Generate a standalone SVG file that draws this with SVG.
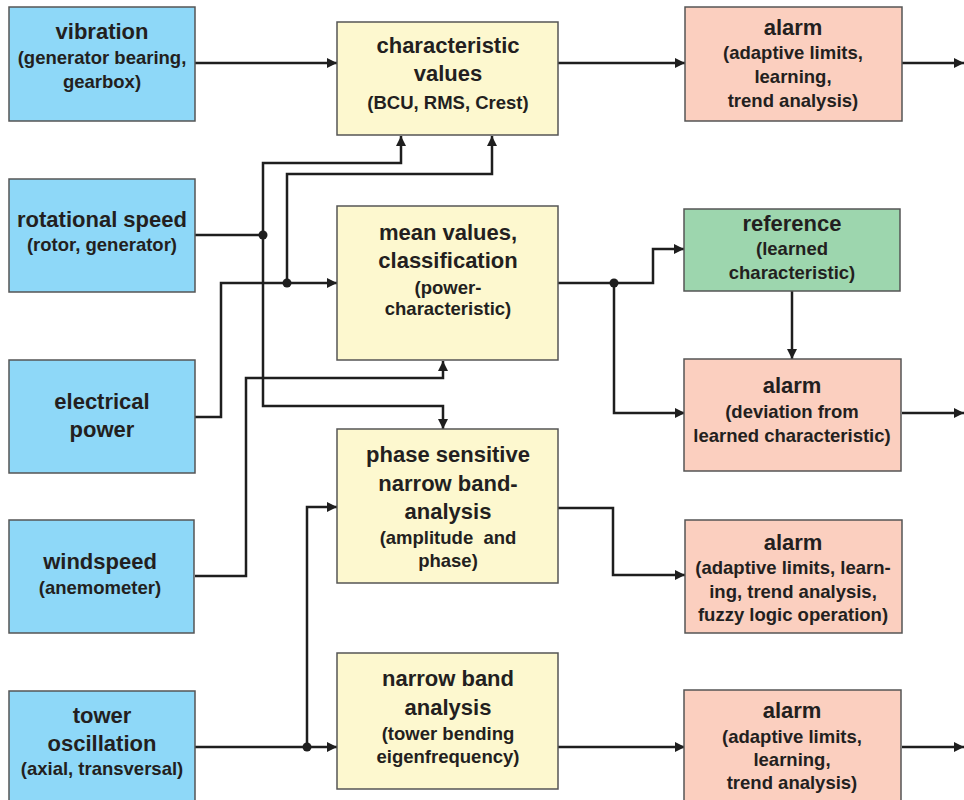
<svg xmlns="http://www.w3.org/2000/svg" width="964" height="800" viewBox="0 0 964 800">
<defs>
<style>
.box{stroke:#555;stroke-width:1.5}
.in{fill:#8ed8f8}
.proc{fill:#fdf8cf}
.alarm{fill:#fbcfbf}
.ref{fill:#9dd6ae}
text{font-family:"Liberation Sans",Arial,sans-serif;font-weight:bold;fill:#231f20;text-anchor:middle}
.t{font-size:22px}
.s{font-size:18.5px}
.c{fill:none;stroke:#1e1e1e;stroke-width:2.5}
.dot{fill:#1e1e1e}
</style>
<marker id="ah" viewBox="0 0 10 10" refX="10" refY="5" markerWidth="10" markerHeight="10" markerUnits="userSpaceOnUse" orient="auto">
<path d="M0,0 L10,5 L0,10 z" fill="#1e1e1e"/>
</marker>
</defs>
<rect width="964" height="800" fill="#fff"/>

<g id="connectors">
<path class="c" marker-end="url(#ah)" d="M195,63 H337"/>
<path class="c" marker-end="url(#ah)" d="M558,63 H685"/>
<path class="c" marker-end="url(#ah)" d="M902,63 H964"/>
<path class="c" d="M195,235 H263"/>
<path class="c" marker-end="url(#ah)" d="M263,235 V163 H401 V136"/>
<path class="c" marker-end="url(#ah)" d="M263,235 V406 H443 V429"/>
<path class="c" marker-end="url(#ah)" d="M195,417 H221 V283 H337"/>
<path class="c" marker-end="url(#ah)" d="M287,283 V174 H492 V136"/>
<path class="c" marker-end="url(#ah)" d="M195,576 H246 V378 H443 V361"/>
<path class="c" marker-end="url(#ah)" d="M558,283 H653 V249 H684"/>
<path class="c" marker-end="url(#ah)" d="M614,283 V413 H685"/>
<path class="c" marker-end="url(#ah)" d="M792,291 V359"/>
<path class="c" marker-end="url(#ah)" d="M902,413 H964"/>
<path class="c" marker-end="url(#ah)" d="M558,508 H613 V575 H685"/>
<path class="c" marker-end="url(#ah)" d="M195,747 H337"/>
<path class="c" marker-end="url(#ah)" d="M307,747 V507 H337"/>
<path class="c" marker-end="url(#ah)" d="M558,747 H685"/>
<path class="c" marker-end="url(#ah)" d="M902,747 H964"/>
<circle class="dot" cx="263" cy="235" r="4.5"/>
<circle class="dot" cx="287" cy="283" r="4.5"/>
<circle class="dot" cx="614" cy="283" r="4.5"/>
<circle class="dot" cx="307" cy="747" r="4.5"/>
</g>

<g id="vibration">
<rect class="box in" x="9" y="7" width="186" height="114"/>
<text class="t" x="102" y="39">vibration</text>
<text class="s" x="102" y="64">(generator bearing,</text>
<text class="s" x="102" y="88">gearbox)</text>
</g>
<g id="rotational-speed">
<rect class="box in" x="9" y="179" width="186" height="113"/>
<text class="t" x="102" y="227">rotational speed</text>
<text class="s" x="102" y="251">(rotor, generator)</text>
</g>
<g id="electrical-power">
<rect class="box in" x="9" y="360" width="186" height="113"/>
<text class="t" x="102" y="409">electrical</text>
<text class="t" x="102" y="437">power</text>
</g>
<g id="windspeed">
<rect class="box in" x="9" y="520" width="185" height="113"/>
<text class="t" x="100" y="569">windspeed</text>
<text class="s" x="100" y="594">(anemometer)</text>
</g>
<g id="tower-oscillation">
<rect class="box in" x="9" y="691" width="186" height="120"/>
<text class="t" x="102" y="723">tower</text>
<text class="t" x="102" y="751">oscillation</text>
<text class="s" x="102" y="775">(axial, transversal)</text>
</g>

<g id="characteristic-values">
<rect class="box proc" x="337" y="22" width="221" height="113"/>
<text class="t" x="448" y="53">characteristic</text>
<text class="t" x="448" y="81">values</text>
<text class="s" x="448" y="109">(BCU, RMS, Crest)</text>
</g>
<g id="mean-values">
<rect class="box proc" x="337" y="206" width="221" height="154"/>
<text class="t" x="448" y="240">mean values,</text>
<text class="t" x="448" y="268">classification</text>
<text class="s" x="448" y="294">(power-</text>
<text class="s" x="448" y="315">characteristic)</text>
</g>
<g id="phase-sensitive">
<rect class="box proc" x="337" y="429" width="221" height="154"/>
<text class="t" x="448" y="462">phase sensitive</text>
<text class="t" x="448" y="491">narrow band-</text>
<text class="t" x="448" y="519">analysis</text>
<text class="s" x="448" y="544" xml:space="preserve">(amplitude  and</text>
<text class="s" x="448" y="567">phase)</text>
</g>
<g id="narrow-band">
<rect class="box proc" x="337" y="653" width="221" height="136"/>
<text class="t" x="448" y="686">narrow band</text>
<text class="t" x="448" y="715">analysis</text>
<text class="s" x="448" y="740">(tower bending</text>
<text class="s" x="448" y="763">eigenfrequency)</text>
</g>

<g id="alarm-1">
<rect class="box alarm" x="685" y="7" width="217" height="114"/>
<text class="t" x="793" y="35">alarm</text>
<text class="s" x="793" y="59">(adaptive limits,</text>
<text class="s" x="793" y="83">learning,</text>
<text class="s" x="793" y="107">trend analysis)</text>
</g>
<g id="reference">
<rect class="box ref" x="684" y="209" width="216" height="82"/>
<text class="t" x="792" y="231">reference</text>
<text class="s" x="792" y="255">(learned</text>
<text class="s" x="792" y="279">characteristic)</text>
</g>
<g id="alarm-2">
<rect class="box alarm" x="684" y="359" width="217" height="112"/>
<text class="t" x="792" y="393">alarm</text>
<text class="s" x="792" y="418">(deviation from</text>
<text class="s" x="792" y="442">learned characteristic)</text>
</g>
<g id="alarm-3">
<rect class="box alarm" x="685" y="520" width="217" height="113"/>
<text class="t" x="793" y="550">alarm</text>
<text class="s" x="793" y="574">(adaptive limits, learn-</text>
<text class="s" x="793" y="598">ing, trend analysis,</text>
<text class="s" x="793" y="621">fuzzy logic operation)</text>
</g>
<g id="alarm-4">
<rect class="box alarm" x="684" y="690" width="217" height="120"/>
<text class="t" x="792" y="718">alarm</text>
<text class="s" x="792" y="743">(adaptive limits,</text>
<text class="s" x="792" y="766">learning,</text>
<text class="s" x="792" y="789">trend analysis)</text>
</g>
</svg>
